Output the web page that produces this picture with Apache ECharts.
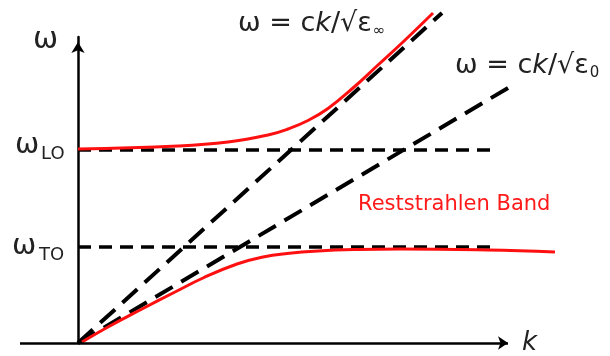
<!DOCTYPE html>
<html>
<head>
<meta charset="utf-8">
<script src="https://cdn.jsdelivr.net/npm/echarts@6/dist/echarts.min.js"></script>
<style>
  html, body { margin: 0; padding: 0; background: #fff; }
  #chart { width: 610px; height: 356px; }
</style>
</head>
<body>
<div id="chart"></div>
<script>
// Phonon-polariton dispersion sketch: frequency (ω) versus wavevector (k)

// Characteristic frequencies (arbitrary units)
const omegaLO = 1.93;
const omegaTO = 0.96;
const flatLineEndK = 4.15;

// Visible extent of the k axis (arrow end) and ω axis
const kAxisStart = -0.58;
const kAxisEnd = 4.35;
const omegaAxisEnd = 3.06;

// Light lines ω = ck/√ε  (end points of the straight lines from the origin)
const lightLineInf = [[0, 0], [3.64, 3.30]];
const lightLineZero = [[0, 0], [4.35, 2.58]];

// Upper polariton branch (k, ω)
const upperBranch = [
  [0.00, 1.94], [1.00, 1.97], [1.50, 2.01], [1.90, 2.08], [2.10, 2.14],
  [2.30, 2.225], [2.50, 2.345], [2.75, 2.55], [3.00, 2.78], [3.25, 3.01],
  [3.55, 3.30]
];

// Lower polariton branch (k, ω)
const lowerBranch = [
  [0.04, 0.01], [0.30, 0.16], [0.64, 0.34], [0.97, 0.51], [1.25, 0.65],
  [1.59, 0.79], [1.85, 0.86], [2.09, 0.895], [2.40, 0.92], [2.80, 0.935],
  [3.22, 0.94], [4.09, 0.93], [4.77, 0.91]
];

const FONT = 'DejaVu Sans';

const chart = echarts.init(document.getElementById('chart'));

const hiddenParts = {
  axisTick: { show: false },
  axisLabel: { show: false },
  splitLine: { show: false }
};

function dashed(data, dash, width) {
  return {
    type: 'line', data: data, symbol: 'none', clip: false, z: 2,
    lineStyle: { color: '#000', width: width, type: dash, cap: 'butt' },
    silent: true
  };
}

function branch(data) {
  return {
    type: 'line', data: data, symbol: 'none', clip: false, z: 3,
    smooth: 0.45,
    lineStyle: { color: '#ff1010', width: 3 },
    silent: true
  };
}

chart.setOption({
  animation: false,
  backgroundColor: '#fff',
  grid: { left: 20, right: 52, top: 37, bottom: 13 },
  xAxis: Object.assign({ type: 'value', min: kAxisStart, max: 4.80, axisLine: { show: false } }, hiddenParts),
  yAxis: Object.assign({
    type: 'value', min: 0, max: omegaAxisEnd,
    axisLine: {
      show: true, onZero: true,
      symbol: ['none', 'arrow'], symbolSize: [10, 11], symbolOffset: [0, -5],
      lineStyle: { color: '#000', width: 2.5 }
    }
  }, hiddenParts),
  series: [
    // k axis drawn as an arrowed line so the curves may run past its end
    {
      type: 'line', data: [], symbol: 'none', silent: true, z: 4,
      markLine: {
        silent: true, animation: false,
        symbol: ['none', 'arrow'], symbolSize: [10, 10],
        label: { show: false },
        lineStyle: { color: '#000', width: 2.5, type: 'solid' },
        data: [[{ coord: [kAxisStart, 0] }, { coord: [kAxisEnd - 0.05, 0] }]]
      }
    },
    dashed([[0, omegaLO], [flatLineEndK, omegaLO]], [13, 8], 3.5),
    dashed([[0, omegaTO], [flatLineEndK, omegaTO]], [13, 8], 3.5),
    dashed(lightLineInf, [20, 10], 4),
    dashed(lightLineZero, [20, 10], 4),
    branch(upperBranch),
    branch(lowerBranch)
  ]
});

// Text annotations placed relative to the axes
const px = (k, w) => chart.convertToPixel({ gridIndex: 0 }, [k, w]);
const pLO = px(0, omegaLO);
const pTO = px(0, omegaTO);
const pTop = px(0, omegaAxisEnd);
const pRight = px(kAxisEnd, 0);

function txt(x, y, text, size, style) {
  return {
    type: 'text', x: x, y: y, silent: true,
    style: Object.assign({
      text: text, fill: '#222', font: size + 'px "' + FONT + '"',
      align: 'left', verticalAlign: 'middle'
    }, style || {})
  };
}

const sub = { fontSize: 15, fontFamily: FONT, fill: '#222', padding: [14, 0, 0, 1] };
const main = { fontSize: 27, fontFamily: FONT, fill: '#222' };
const ital = { fontSize: 27, fontFamily: FONT, fill: '#222', fontStyle: 'italic' };

chart.setOption({
  graphic: [
    txt(pTop[0] - 45, pTop[1] + 3, 'ω', 30),
    txt(pLO[0] - 63, pLO[1] - 5, 'ω', 29),
    txt(pLO[0] - 37, pLO[1] + 4, 'LO', 18),
    txt(pTO[0] - 66, pTO[1] - 1, 'ω', 29),
    txt(pTO[0] - 39, pTO[1] + 8, 'TO', 18),
    {
      type: 'text', x: 238, y: 24, silent: true,
      style: {
        text: '{m|ω = c}{i|k}{m|/√ε}{s|∞}', verticalAlign: 'middle',
        rich: { m: main, i: ital, s: sub }
      }
    },
    {
      type: 'text', x: 455, y: 66, silent: true,
      style: {
        text: '{m|ω = c}{i|k}{m|/√ε}{s|0}', verticalAlign: 'middle',
        rich: { m: main, i: ital, s: sub }
      }
    },
    txt(358, 205, 'Reststrahlen Band', 21, { fill: '#ff1a1a' }),
    txt(pRight[0] + 9, pRight[1], 'k', 26, { font: 'italic 26px "' + FONT + '"' })
  ]
});
</script>
</body>
</html>
